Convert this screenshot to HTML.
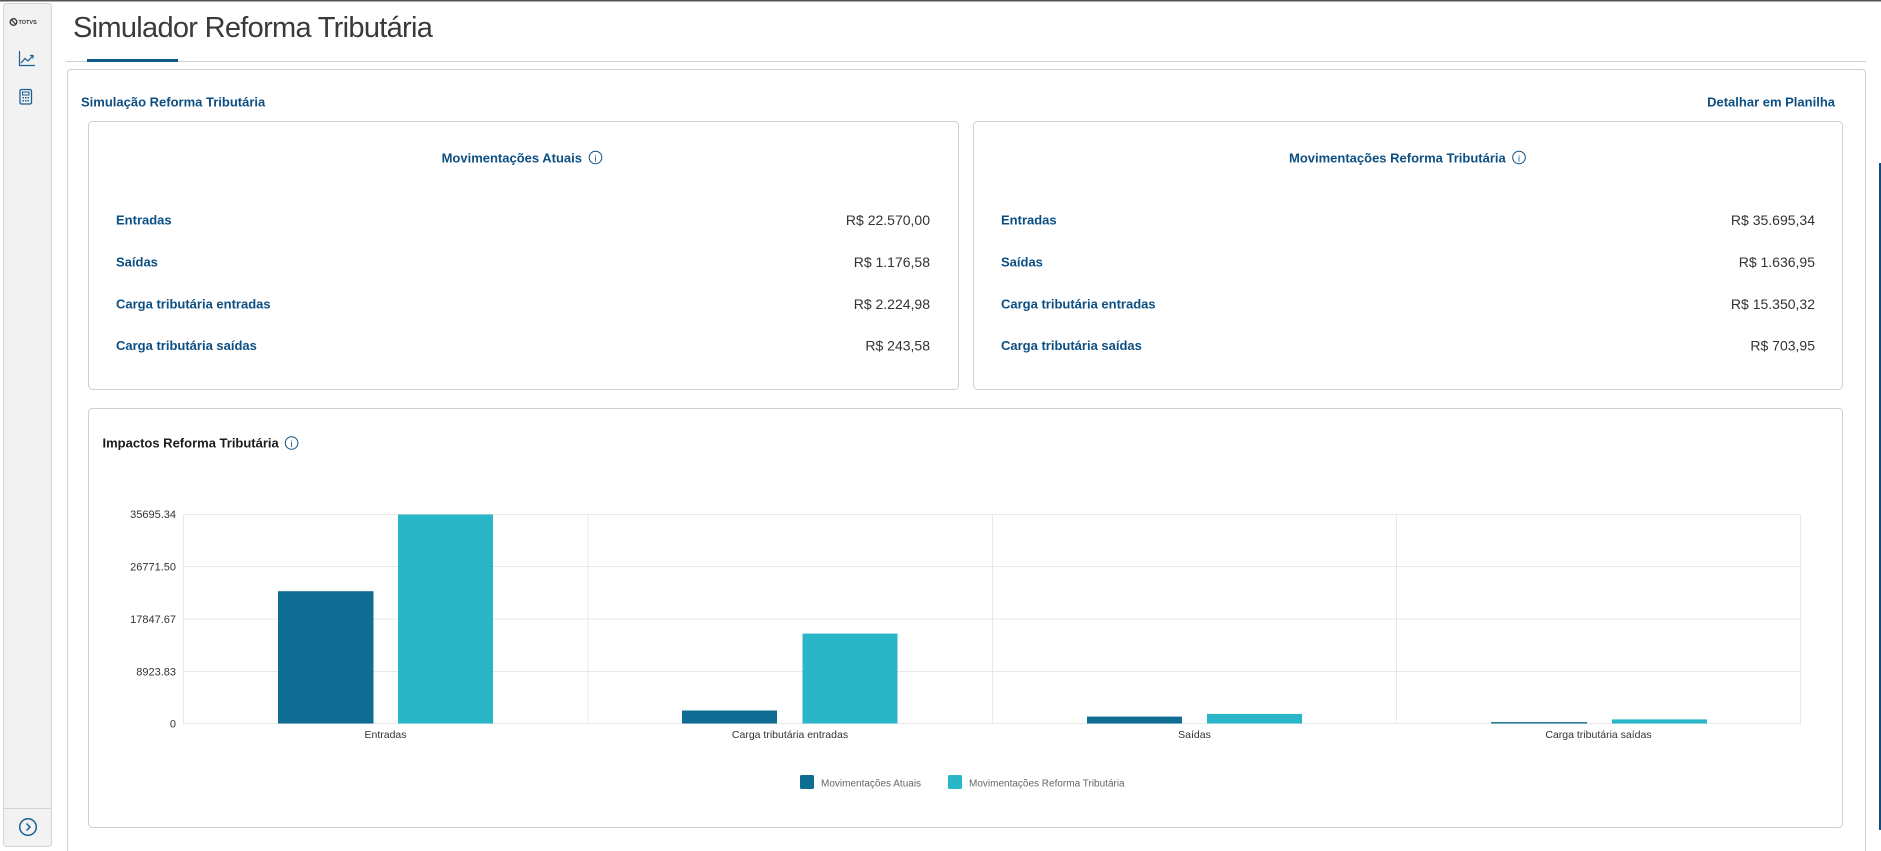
<!DOCTYPE html>
<html><head><meta charset="utf-8"><style>
html,body{margin:0;padding:0;background:#fff;}
body{width:1881px;height:851px;overflow:hidden;font-family:"Liberation Sans",sans-serif;}
svg{display:block}
</style></head><body>
<svg width="1881" height="851" viewBox="0 0 1881 851" xmlns="http://www.w3.org/2000/svg" font-family="Liberation Sans, sans-serif">
<rect x="0" y="0" width="1881" height="851" fill="#fff"/>
<rect x="0" y="0" width="1881" height="1.5" fill="#555"/>
<!-- sidebar -->
<rect x="3.5" y="3.5" width="48" height="843" rx="3" fill="#f2f2f2" stroke="#d4d4d4"/>
<line x1="4" y1="808.5" x2="51" y2="808.5" stroke="#d4d4d4"/>
<circle cx="13.5" cy="22" r="3.3" fill="none" stroke="#333" stroke-width="1.3"/>
<line x1="11.5" y1="20" x2="15.5" y2="24" stroke="#333" stroke-width="1.2"/>
<text x="18.5" y="24" font-size="5.5" font-weight="bold" fill="#333">TOTVS</text>
<polyline points="19.5,51 19.5,65.5 35,65.5" fill="none" stroke="#1a5f8f" stroke-width="1.2"/>
<polyline points="21,63 25,58.5 28,61 33,55.5" fill="none" stroke="#1a5f8f" stroke-width="1.2"/>
<polyline points="30,55.5 33,55.5 33,58.5" fill="none" stroke="#1a5f8f" stroke-width="1.2"/>
<rect x="20" y="89.5" width="11.5" height="14.5" rx="1.5" fill="none" stroke="#1a5f8f" stroke-width="1.3"/>
<rect x="22.5" y="92" width="6.5" height="3" fill="none" stroke="#1a5f8f" stroke-width="1"/>
<g fill="#1a5f8f"><rect x="22.5" y="97" width="1.5" height="1.5"/><rect x="25" y="97" width="1.5" height="1.5"/><rect x="27.5" y="97" width="1.5" height="1.5"/><rect x="22.5" y="100" width="1.5" height="1.5"/><rect x="25" y="100" width="1.5" height="1.5"/><rect x="27.5" y="100" width="1.5" height="1.5"/></g>
<circle cx="28" cy="827" r="8.3" fill="none" stroke="#1a5f8f" stroke-width="1.5"/>
<polyline points="26.5,823.5 30,827 26.5,830.5" fill="none" stroke="#1a5f8f" stroke-width="1.5"/>
<!-- header -->
<text x="73" y="37" font-size="29" letter-spacing="-0.7" fill="#3a3a3a">Simulador Reforma Tributária</text>
<line x1="66" y1="61.5" x2="1866" y2="61.5" stroke="#cfcfcf"/>
<rect x="87" y="59" width="91" height="3" fill="#0d5a8c"/>
<!-- panel -->
<path d="M67.5 851 V73 Q67.5 69.5 71 69.5 H1862 Q1865.5 69.5 1865.5 73 V851" fill="none" stroke="#d0d0d0"/>
<rect x="1879" y="163" width="2" height="667" fill="#0d4f82"/>
<text x="81" y="106.3" font-size="13" font-weight="bold" fill="#0d4f82">Simulação Reforma Tributária</text>
<text x="1835" y="106.5" font-size="13" font-weight="bold" fill="#0d4f82" text-anchor="end">Detalhar em Planilha</text>
<!-- left card -->
<rect x="88.5" y="121.5" width="870" height="268" rx="4" fill="#fff" stroke="#d0d0d0"/>
<text x="441.6" y="162.3" font-size="13" font-weight="bold" fill="#0d4f82">Movimentações Atuais</text>
<circle cx="595.5" cy="157.5" r="6.3" fill="none" stroke="#0d4f82" stroke-width="1"/>
<text x="595.5" y="161.3" font-size="9" fill="#0d4f82" text-anchor="middle">i</text>
<g font-size="13" font-weight="bold" fill="#0d4f82">
<text x="116" y="224.6">Entradas</text>
<text x="116" y="266.6">Saídas</text>
<text x="116" y="308.6">Carga tributária entradas</text>
<text x="116" y="350">Carga tributária saídas</text>
</g>
<g font-size="14" fill="#333" text-anchor="end">
<text x="930" y="225">R$ 22.570,00</text>
<text x="930" y="267">R$ 1.176,58</text>
<text x="930" y="309">R$ 2.224,98</text>
<text x="930" y="350.5">R$ 243,58</text>
</g>
<!-- right card -->
<rect x="973.5" y="121.5" width="869" height="268" rx="4" fill="#fff" stroke="#d0d0d0"/>
<text x="1289" y="162.3" font-size="13" font-weight="bold" fill="#0d4f82">Movimentações Reforma Tributária</text>
<circle cx="1519" cy="157.5" r="6.3" fill="none" stroke="#0d4f82" stroke-width="1"/>
<text x="1519" y="161.3" font-size="9" fill="#0d4f82" text-anchor="middle">i</text>
<g font-size="13" font-weight="bold" fill="#0d4f82">
<text x="1001" y="224.6">Entradas</text>
<text x="1001" y="266.6">Saídas</text>
<text x="1001" y="308.6">Carga tributária entradas</text>
<text x="1001" y="350">Carga tributária saídas</text>
</g>
<g font-size="14" fill="#333" text-anchor="end">
<text x="1815" y="225">R$ 35.695,34</text>
<text x="1815" y="267">R$ 1.636,95</text>
<text x="1815" y="309">R$ 15.350,32</text>
<text x="1815" y="350.5">R$ 703,95</text>
</g>
<!-- chart card -->
<rect x="88.5" y="408.5" width="1754" height="419" rx="4" fill="#fff" stroke="#d0d0d0"/>
<text x="102.5" y="447.6" font-size="13" font-weight="bold" fill="#1c1c1c">Impactos Reforma Tributária</text>
<circle cx="291.6" cy="443" r="6.3" fill="none" stroke="#0d4f82" stroke-width="1"/>
<text x="291.6" y="446.8" font-size="9" fill="#0d4f82" text-anchor="middle">i</text>
<!-- grid -->
<g stroke="#e8e8e8" stroke-width="1">
<line x1="183" y1="514.5" x2="1801" y2="514.5"/>
<line x1="183" y1="566.5" x2="1801" y2="566.5"/>
<line x1="183" y1="619" x2="1801" y2="619"/>
<line x1="183" y1="671.5" x2="1801" y2="671.5"/>
<line x1="183" y1="723.5" x2="1801" y2="723.5"/>
<line x1="183.5" y1="514" x2="183.5" y2="724"/>
<line x1="588" y1="514" x2="588" y2="724"/>
<line x1="992.5" y1="514" x2="992.5" y2="724"/>
<line x1="1396.5" y1="514" x2="1396.5" y2="724"/>
<line x1="1800.5" y1="514" x2="1800.5" y2="724"/>
</g>
<g font-size="11" fill="#333" text-anchor="end">
<text x="176" y="518">35695.34</text>
<text x="176" y="570.5">26771.50</text>
<text x="176" y="623">17847.67</text>
<text x="176" y="675.3">8923.83</text>
<text x="176" y="727.5">0</text>
</g>
<!-- bars -->
<g fill="#0f6c92">
<rect x="278" y="591.2" width="95.5" height="132.3"/>
<rect x="682" y="710.5" width="95" height="13"/>
<rect x="1087" y="716.6" width="95" height="6.9"/>
<rect x="1491" y="722.1" width="96" height="1.4"/>
</g>
<g fill="#29b6c6">
<rect x="398" y="514.5" width="95" height="209"/>
<rect x="802.5" y="633.6" width="95" height="89.9"/>
<rect x="1207" y="713.9" width="95" height="9.6"/>
<rect x="1612" y="719.4" width="95" height="4.1"/>
</g>
<g font-size="10.5" fill="#333" text-anchor="middle">
<text x="385.5" y="738">Entradas</text>
<text x="790" y="738">Carga tributária entradas</text>
<text x="1194.5" y="738">Saídas</text>
<text x="1598.5" y="738">Carga tributária saídas</text>
</g>
<!-- legend -->
<rect x="800" y="775" width="14" height="14" rx="1.5" fill="#0f6c92"/>
<text x="821" y="786.5" font-size="10" fill="#666">Movimentações Atuais</text>
<rect x="948" y="775" width="14" height="14" rx="1.5" fill="#29b6c6"/>
<text x="969" y="786.5" font-size="10" fill="#666">Movimentações Reforma Tributária</text>
</svg>
</body></html>
